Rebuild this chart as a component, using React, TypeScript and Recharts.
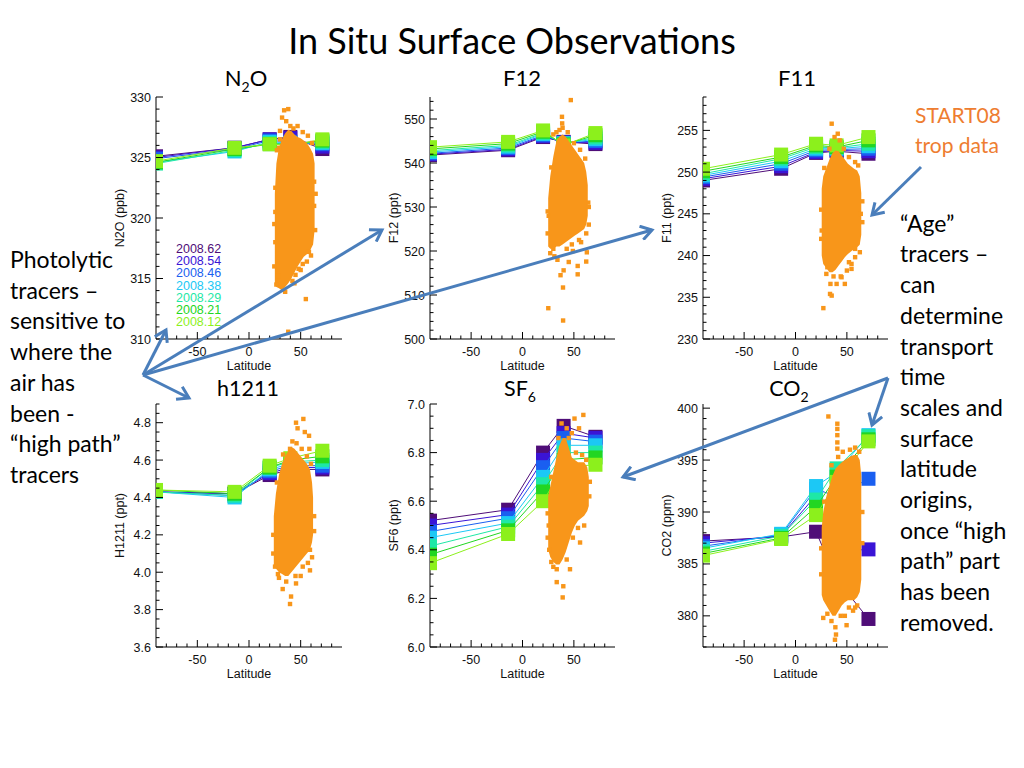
import React from 'react';
import { ComposedChart, Scatter, Area, XAxis, YAxis, Legend } from 'recharts';

const FONT = '"Liberation Sans", Arial, Helvetica, sans-serif';
const SLIDE_FONT = 'Lato, "Open Sans", sans-serif';
const ORANGE = '#f8961a';
const ARROW = '#4a7ebb';

// ---------- shared series info ----------
const DATES = ['2008.62', '2008.54', '2008.46', '2008.38', '2008.29', '2008.21', '2008.12'];
const DATE_COLORS = ['#4f0d78', '#3a14d6', '#1a5ff0', '#1cc8f5', '#1ee8a6', '#22d622', '#8cf01c'];
const STATION_LATS = [-90, -14, 20, 40, 71];
const LAT_MAJOR = [-50, 0, 50];
const LAT_TICKS = [-80, -70, -60, -50, -40, -30, -20, -10, 0, 10, 20, 30, 40, 50, 60, 70, 80];

// ---------- N2O ----------
const N2O_VALUES = [
  [325.1, 325.8, 326.5, 326.7, 325.7],
  [325.0, 325.8, 326.5, 326.6, 325.9],
  [324.9, 325.7, 326.4, 326.3, 326.1],
  [324.6, 325.5, 326.3, 326.2, 326.2],
  [324.5, 325.6, 326.2, 326.1, 326.3],
  [324.6, 325.7, 326.1, 326.1, 326.4],
  [324.7, 325.8, 326.1, 326.0, 326.5],
];
const N2O_BLOB = [
  [25, 314.5, 322], [26.5, 314.3, 324.5], [29, 314.2, 325.8], [32, 314, 326.5], [35, 314.3, 327],
  [38, 314.6, 327.3], [41, 315, 327.2], [44, 315.5, 326.9], [47, 316, 326.7], [50, 316.4, 326.6],
  [53, 316.8, 326.4], [56, 317, 326.2], [59, 317.3, 325.8], [62, 317.8, 325.3], [63.5, 319, 324.5],
];
const N2O_POINTS = [
  [32, 328.3], [34, 328.9], [38, 329.0], [36, 328.0], [40, 327.6], [43, 327.4], [30, 326.5], [29, 325.8],
  [55, 313.3], [38, 310.6], [26.5, 314.5], [28, 315.2], [35, 313.9], [42, 314.8], [45, 315.3], [48, 315.8],
  [25.5, 318], [25.5, 320.5], [25.5, 322.5], [63, 321], [63, 323], [58, 317.2], [52, 316.2],
  [24.5, 316], [24.5, 319.5], [64, 319], [64.5, 322], [30, 327.2], [47, 327.6], [52, 327.1], [57, 326.8],
  [61, 326.2], [27, 325.6], [44, 314.6], [50, 315.7], [56, 316.4], [60, 316.9],
];

// ---------- F12 ----------
const F12_VALUES = [
  [541.8, 542.9, 545.9, 544.8, 544.3],
  [542.0, 543.1, 546.1, 544.7, 544.6],
  [542.2, 543.4, 546.3, 544.6, 545.0],
  [542.5, 543.7, 546.6, 544.5, 545.4],
  [542.8, 544.0, 546.8, 544.4, 545.8],
  [543.2, 544.4, 547.1, 544.2, 546.3],
  [543.6, 544.8, 547.4, 544.0, 546.8],
];
const F12_BLOB = [
  [25, 521, 532], [27, 520.5, 537], [30, 520.5, 541.5], [33, 521, 545], [36, 521, 546],
  [39, 521.5, 546.5], [42, 522, 546], [45, 522.5, 545], [48, 523, 544], [51, 523.5, 543],
  [54, 524, 542], [57, 524.5, 541], [60, 525, 540], [62, 526, 538], [63.5, 528, 535],
];
const F12_POINTS = [
  [47, 554.3], [38.4, 550.5], [38.6, 549], [39, 548], [30, 546.5], [33, 547], [25.1, 507], [39.5, 504.2],
  [39.4, 511.7], [37, 514.5], [40, 515.6], [45, 517.5], [53.7, 514.7], [53.7, 516.6], [62, 517.6],
  [62.6, 519.7], [62, 524], [27, 519.5], [30, 520.5], [34, 518], [49, 520], [57, 522], [25.5, 528], [64, 531],
  [24.5, 524], [24.5, 529], [64.5, 530], [64.5, 526], [36, 547.5], [44, 547], [50, 544.5], [56, 543],
  [61, 541], [28, 539], [43, 520.5], [48, 521.5], [55, 522.5], [31, 518.8],
];

// ---------- F11 ----------
const F11_VALUES = [
  [249.0, 250.4, 252.3, 252.5, 252.2],
  [249.2, 250.7, 252.4, 252.6, 252.5],
  [249.4, 251.0, 252.6, 252.7, 252.8],
  [249.6, 251.3, 252.8, 252.8, 253.1],
  [249.8, 251.6, 253.0, 252.9, 253.4],
  [250.1, 251.8, 253.2, 253.0, 253.8],
  [250.4, 252.1, 253.4, 253.2, 254.2],
];
const F11_BLOB = [
  [25.5, 240, 248], [27, 239, 249.5], [30, 238.5, 250.5], [33, 238, 251.5], [36, 238, 252.3],
  [39, 238.3, 252.6], [42, 238.8, 252.5], [45, 239.3, 252], [48, 239.8, 251.5], [51, 240.2, 251],
  [54, 240.5, 250.7], [57, 240.8, 250.4], [60, 241, 250.2], [62.5, 241.3, 249.5], [64, 242.5, 247.5],
];
const F11_POINTS = [
  [35.2, 255.8], [41.1, 254.6], [38, 254.2], [43, 253.8], [27.1, 233.7], [33.6, 235.4], [35.2, 235.2],
  [40, 236.6], [48, 236.6], [54.5, 239], [54.5, 238.4], [62.6, 240.4], [44.8, 237.4], [30, 237.8],
  [37, 237.5], [25.5, 243], [63.5, 245], [58, 240.8], [50, 238.2], [31, 238.6],
  [25, 242], [25, 245.5], [65, 244], [65, 246.5], [33, 252.8], [47, 252.8], [52, 251.8], [58, 251.2],
  [61, 250.8], [28, 250.5], [44, 237.5], [52, 239.2], [58, 239.8], [34, 236.6],
];

// ---------- H1211 ----------
const H1211_VALUES = [
  [4.43, 4.42, 4.52, 4.55, 4.55],
  [4.43, 4.42, 4.53, 4.56, 4.56],
  [4.43, 4.41, 4.54, 4.57, 4.57],
  [4.43, 4.40, 4.55, 4.58, 4.59],
  [4.43, 4.41, 4.56, 4.59, 4.60],
  [4.44, 4.42, 4.56, 4.60, 4.62],
  [4.44, 4.43, 4.57, 4.61, 4.65],
];
const H1211_BLOB = [
  [24, 4.03, 4.3], [26, 4.02, 4.42], [29, 4.0, 4.52], [32, 3.99, 4.58], [35, 3.98, 4.62],
  [38, 3.98, 4.65], [41, 4.0, 4.67], [44, 4.02, 4.66], [47, 4.04, 4.64], [50, 4.06, 4.62],
  [53, 4.08, 4.6], [56, 4.1, 4.58], [59, 4.12, 4.55], [61, 4.16, 4.48], [62, 4.2, 4.4],
];
const H1211_POINTS = [
  [45.5, 4.8], [52.6, 4.82], [47, 4.77], [58.1, 4.73], [58.4, 4.66], [39.7, 4.66], [54, 4.75], [42, 4.7],
  [39.7, 3.83], [40.7, 3.87], [32.6, 3.91], [45.5, 3.94], [59, 4.01], [59, 4.12], [25.2, 4.03], [36, 3.95],
  [50, 3.98], [29, 3.97], [61, 4.08],
  [23.5, 4.1], [23.5, 4.2], [63, 4.3], [63, 4.22], [33, 4.63], [46, 4.69], [51, 4.66], [56, 4.62],
  [60, 4.58], [27, 4.48], [45, 3.98], [52, 4.03], [57, 4.05], [28, 3.99],
];

// ---------- SF6 ----------
const SF6_VALUES = [
  [6.52, 6.565, 6.8, 6.91, 6.865],
  [6.5, 6.545, 6.77, 6.88, 6.86],
  [6.475, 6.53, 6.74, 6.86, 6.845],
  [6.45, 6.51, 6.7, 6.83, 6.83],
  [6.415, 6.495, 6.67, 6.8, 6.8],
  [6.38, 6.48, 6.64, 6.77, 6.78],
  [6.345, 6.465, 6.6, 6.74, 6.75],
];
const SF6_BLOB = [
  [25, 6.4, 6.62], [27, 6.37, 6.66], [30, 6.35, 6.72], [33, 6.34, 6.78], [36, 6.34, 6.83],
  [39, 6.36, 6.86], [42, 6.39, 6.86], [45, 6.43, 6.82], [48, 6.47, 6.78], [51, 6.5, 6.77],
  [54, 6.52, 6.76], [57, 6.53, 6.76], [60, 6.54, 6.76], [63, 6.56, 6.74], [64.5, 6.58, 6.7],
];
const SF6_POINTS = [
  [39.1, 6.204], [39.7, 6.25], [33.3, 6.267], [46.2, 6.32], [56, 6.43], [33.3, 6.32], [30, 6.33],
  [59.2, 6.955], [50.6, 6.94], [55, 6.9], [38, 6.92], [48, 6.88], [43, 6.9], [26, 6.4], [25.5, 6.5], [60, 6.5],
  [24.5, 6.45], [24.5, 6.55], [65, 6.62], [65.5, 6.68], [35, 6.86], [45, 6.86], [52, 6.8], [58, 6.79],
  [62, 6.77], [28, 6.7], [43, 6.36], [49, 6.45], [54, 6.49], [28, 6.35],
];

// ---------- CO2 ----------
const CO2_VALUES = [
  [387.2, 387.6, 388.1, 383.5, 379.7],
  [387.0, 387.7, 391.6, 386.2, 386.4],
  [386.7, 387.8, 392.2, 391.5, 393.2],
  [386.5, 387.9, 392.5, 393.8, 397.4],
  [386.2, 387.7, 391.2, 394.2, 397.3],
  [386.0, 387.5, 390.5, 393.4, 397.0],
  [385.8, 387.4, 389.7, 392.9, 396.8],
];
const CO2_BLOB = [
  [25.5, 382, 388.5], [27, 381.5, 390], [30, 381, 391.5], [33, 380.5, 392.5], [36, 380, 393.5],
  [39, 380, 394.2], [42, 380.5, 394.5], [45, 381, 394.8], [48, 381.3, 395], [51, 381.5, 395.2],
  [54, 381.5, 395.4], [57, 381.5, 395.5], [60, 381.8, 395.5], [62.5, 382.3, 395], [64, 383.5, 393.5],
];
const CO2_POINTS = [
  [32, 399.2], [40.7, 398.5], [40.7, 398.0], [40.7, 397.4], [40.7, 396.7], [40.7, 396.1], [41.5, 395.3],
  [27, 379.8], [38.4, 377.7], [39.4, 378.2], [38.8, 378.9], [49.7, 379.1], [48, 380.0], [35, 379.5],
  [56, 380.5], [60, 381],
  [25, 384], [25, 386.5], [65, 387], [65, 390], [35, 394.5], [46, 395.8], [53, 396], [58, 396.2],
  [62, 395.8], [28, 391], [44, 380], [52, 380.8], [58, 380.8], [31, 380.2],
];

// ---------- slide text ----------
const SIDE_LEFT = ['Photolytic', 'tracers \u2013', 'sensitive to', 'where the', 'air has', 'been -', '\u201chigh path\u201d', 'tracers'];
const SIDE_RIGHT = ['\u201cAge\u201d', 'tracers \u2013', 'can', 'determine', 'transport', 'time', 'scales and', 'surface', 'latitude', 'origins,', 'once \u201chigh', 'path\u201d part', 'has been', 'removed.'];

function stepTicks(lo: number, hi: number, step: number) {
  const out: number[] = [];
  const n = Math.floor((hi - lo) / step + 1e-6);
  for (let i = 0; i <= n; i++) out.push(+(lo + i * step).toFixed(4));
  return out;
}

function Tick(props: any) {
  const { x, y, payload, side, majors, digits } = props;
  const v = payload.value;
  const major = majors.some((m: number) => Math.abs(m - v) < 1e-6);
  const L = major ? 7 : 3.5;
  const style = { fontFamily: FONT, fontSize: '12.5px', fill: '#111' };
  if (side === 'bottom') {
    return (
      <g>
        <line x1={x} x2={x} y1={y} y2={y - L} stroke="#000" />
        {major && <text x={x} y={y + 17} textAnchor="middle" fontSize={12.5} style={style}>{v.toFixed(digits)}</text>}
      </g>
    );
  }
  if (side === 'top') return <line x1={x} x2={x} y1={y} y2={y + L} stroke="#000" />;
  if (side === 'left') {
    return (
      <g>
        <line x1={x} x2={x + L} y1={y} y2={y} stroke="#000" />
        {major && <text x={x - 5} y={y + 4.5} textAnchor="end" fontSize={12.5} style={style}>{v.toFixed(digits)}</text>}
      </g>
    );
  }
  return <line x1={x} x2={x - L} y1={y} y2={y} stroke="#000" />;
}

function AxisTitle(props: any) {
  const { px, py, text, rotate } = props;
  const fs = 12.5;
  return (
    <text x={px} y={py} textAnchor="middle" dominantBaseline="central" fontSize={fs}
      transform={rotate ? `rotate(-90 ${px} ${py})` : undefined}
      style={{ fontFamily: FONT, fontSize: `${fs}px`, fill: '#111' }}>
      {text}
    </text>
  );
}

const DateLegend = () => (
  <div style={{ fontFamily: FONT, fontSize: 12.5, lineHeight: '12.2px', whiteSpace: 'nowrap' }}>
    {DATES.map((d, i) => <div key={d} style={{ color: DATE_COLORS[i] }}>{d}</div>)}
  </div>
);

type PanelCfg = {
  box: { left: number; top: number; w: number; h: number };
  yDomain: [number, number];
  yMajor: number[];
  yStep: number;
  yDigits: number;
  yLabel: string;
  values: number[][];
  blob: number[][];
  points: number[][];
  legend?: boolean;
};

function Panel({ cfg }: { cfg: PanelCfg }) {
  const { box, yDomain, yMajor, yStep, yDigits, yLabel, values, blob, points, legend } = cfg;
  const ML = 60, MT = 10, MR = 10, MB = 40;
  const width = box.w + ML + MR;
  const height = box.h + MT + MB;
  const blobData = blob.map(([lat, lo, hi]) => ({ lat, range: [lo, hi] }));
  const pointData = points.map(([lat, val]) => ({ lat, val }));
  const yTicks = stepTicks(yDomain[0], yDomain[1], yStep);
  return (
    <div style={{ position: 'absolute', left: box.left - ML, top: box.top - MT }}>
      <ComposedChart width={width} height={height} data={blobData} margin={{ top: MT, right: MR, bottom: 0, left: 0 }}>
        <XAxis dataKey="lat" type="number" domain={[-90, 90]} allowDataOverflow ticks={LAT_TICKS} interval={0}
          tickLine={false} tickSize={0} tickMargin={0} height={MB} axisLine={{ stroke: '#000' }}
          tick={<Tick side="bottom" majors={LAT_MAJOR} digits={0} />}
          label={<AxisTitle px={ML + box.w / 2} py={MT + box.h + 27} text="Latitude" />} />
        <XAxis xAxisId="top" orientation="top" type="number" domain={[-90, 90]} allowDataOverflow ticks={LAT_TICKS}
          interval={0} tickLine={false} tickSize={0} tickMargin={0} height={0} axisLine={{ stroke: '#000' }}
          tick={<Tick side="top" majors={LAT_MAJOR} digits={0} />} />
        <YAxis dataKey="val" type="number" domain={yDomain} allowDataOverflow ticks={yTicks} interval={0}
          tickLine={false} tickSize={0} tickMargin={0} width={ML} axisLine={{ stroke: '#000' }}
          tick={<Tick side="left" majors={yMajor} digits={yDigits} />}
          label={<AxisTitle px={ML - 36} py={MT + box.h / 2} text={yLabel} rotate />} />
        <YAxis yAxisId="right" orientation="right" type="number" domain={yDomain} allowDataOverflow ticks={yTicks}
          interval={0} tickLine={false} tickSize={0} tickMargin={0} width={0} axisLine={{ stroke: '#000' }}
          tick={<Tick side="right" majors={yMajor} digits={yDigits} />} />
        {values.map((row, i) => (
          <Scatter key={DATES[i]} name={DATES[i]} data={row.map((val, j) => ({ lat: STATION_LATS[j], val }))}
            fill={DATE_COLORS[i]} line={{ stroke: DATE_COLORS[i], strokeWidth: 1 }} lineType="joint"
            isAnimationActive={false}
            shape={(p: any) => <rect x={p.cx - 7} y={p.cy - 7} width={14} height={14} fill={DATE_COLORS[i]} />} />
        ))}
        <Area dataKey="range" type="linear" stroke="none" fill={ORANGE} fillOpacity={1} isAnimationActive={false}
          {...({ zIndex: 650 } as any)} />
        <Scatter name="START08" data={pointData} fill={ORANGE} isAnimationActive={false}
          {...({ zIndex: 660 } as any)}
          shape={(p: any) => <rect x={p.cx - 2.2} y={p.cy - 2.2} width={4.4} height={4.4} fill={ORANGE} />} />
        {legend && (
          <Legend layout="vertical" align="center" verticalAlign="middle" content={() => <DateLegend />}
            wrapperStyle={{ left: 80, top: 156, width: 'auto' }} />
        )}
      </ComposedChart>
    </div>
  );
}

const TOP_ROW = 97, BOT_ROW = 404;
const PANELS: PanelCfg[] = [
  { box: { left: 156, top: TOP_ROW, w: 186, h: 242 }, yDomain: [310, 330], yMajor: [310, 315, 320, 325, 330], yStep: 1, yDigits: 0, yLabel: 'N2O (ppb)', values: N2O_VALUES, blob: N2O_BLOB, points: N2O_POINTS, legend: true },
  { box: { left: 430, top: TOP_ROW, w: 185, h: 242 }, yDomain: [500, 555], yMajor: [500, 510, 520, 530, 540, 550], yStep: 2, yDigits: 0, yLabel: 'F12 (ppt)', values: F12_VALUES, blob: F12_BLOB, points: F12_POINTS },
  { box: { left: 703, top: TOP_ROW, w: 185, h: 242 }, yDomain: [230, 259], yMajor: [230, 235, 240, 245, 250, 255], yStep: 1, yDigits: 0, yLabel: 'F11 (ppt)', values: F11_VALUES, blob: F11_BLOB, points: F11_POINTS },
  { box: { left: 156, top: BOT_ROW, w: 186, h: 243 }, yDomain: [3.6, 4.9], yMajor: [3.6, 3.8, 4.0, 4.2, 4.4, 4.6, 4.8], yStep: 0.05, yDigits: 1, yLabel: 'H1211 (ppt)', values: H1211_VALUES, blob: H1211_BLOB, points: H1211_POINTS },
  { box: { left: 430, top: BOT_ROW, w: 185, h: 243 }, yDomain: [6.0, 7.0], yMajor: [6.0, 6.2, 6.4, 6.6, 6.8, 7.0], yStep: 0.05, yDigits: 1, yLabel: 'SF6 (ppt)', values: SF6_VALUES, blob: SF6_BLOB, points: SF6_POINTS },
  { box: { left: 703, top: BOT_ROW, w: 185, h: 243 }, yDomain: [377, 400.4], yMajor: [380, 385, 390, 395, 400], yStep: 1, yDigits: 0, yLabel: 'CO2 (ppm)', values: CO2_VALUES, blob: CO2_BLOB, points: CO2_POINTS },
];

const ARROWS = [
  [143, 375, 166, 330], [143, 375, 382, 230], [143, 375, 652, 230], [143, 375, 189, 398],
  [921, 167, 872, 215], [888, 378, 623, 477], [888, 378, 872, 425],
];

function PanelTitle({ x, y, main, sub, tail, size = 22 }: { x: number; y: number; main: string; sub?: string; tail?: string; size?: number }) {
  return (
    <text x={x} y={y} textAnchor="middle" style={{ fontFamily: SLIDE_FONT, fontSize: size, fill: '#000' }}>
      {main}
      {sub && <tspan dy={6} style={{ fontSize: 14 }}>{sub}</tspan>}
      {tail && <tspan dy={-6}>{tail}</tspan>}
    </text>
  );
}

export default function App() {
  return (
    <div style={{ position: 'absolute', left: 0, top: 0, width: 1024, height: 768, background: '#fff', overflow: 'hidden' }}>
      <svg width={1024} height={768} style={{ position: 'absolute', left: 0, top: 0 }}>
        <text x={512} y={54} textAnchor="middle" style={{ fontFamily: SLIDE_FONT, fontSize: 36, fill: '#000' }}>
          In Situ Surface Observations
        </text>
        <PanelTitle x={246} y={86} main="N" sub="2" tail="O" />
        <PanelTitle x={522} y={86} main="F12" />
        <PanelTitle x={797} y={86} main="F11" />
        <PanelTitle x={248} y={396} main="h1211" size={21.5} />
        <PanelTitle x={520} y={396} main="SF" sub="6" size={21.5} />
        <PanelTitle x={789} y={396} main="CO" sub="2" size={21.5} />
        {SIDE_LEFT.map((t, i) => (
          <text key={'l' + i} x={10} y={268 + i * 30.7} style={{ fontFamily: SLIDE_FONT, fontSize: 23, fill: '#000' }}>{t}</text>
        ))}
        {SIDE_RIGHT.map((t, i) => (
          <text key={'r' + i} x={900} y={231.7 + i * 30.7} style={{ fontFamily: SLIDE_FONT, fontSize: 23, fill: '#000' }}>{t}</text>
        ))}
        <text x={915} y={123} style={{ fontFamily: SLIDE_FONT, fontSize: 21, fill: '#ee7d31' }}>START08</text>
        <text x={915} y={153} style={{ fontFamily: SLIDE_FONT, fontSize: 21, fill: '#ee7d31' }}>trop data</text>
      </svg>
      {PANELS.map((p) => <Panel key={p.yLabel} cfg={p} />)}
      <svg width={1024} height={768} style={{ position: 'absolute', left: 0, top: 0, pointerEvents: 'none' }}>
        <defs>
          <marker id="chev" markerUnits="userSpaceOnUse" markerWidth={16} markerHeight={16} viewBox="0 0 16 16" refX={13} refY={8} orient="auto">
            <path d="M2,1 L13,8 L2,15" fill="none" stroke={ARROW} strokeWidth={3} strokeLinejoin="miter" />
          </marker>
        </defs>
        {ARROWS.map(([x1, y1, x2, y2], i) => (
          <line key={i} x1={x1} y1={y1} x2={x2} y2={y2} stroke={ARROW} strokeWidth={3} markerEnd="url(#chev)" />
        ))}
      </svg>
    </div>
  );
}
